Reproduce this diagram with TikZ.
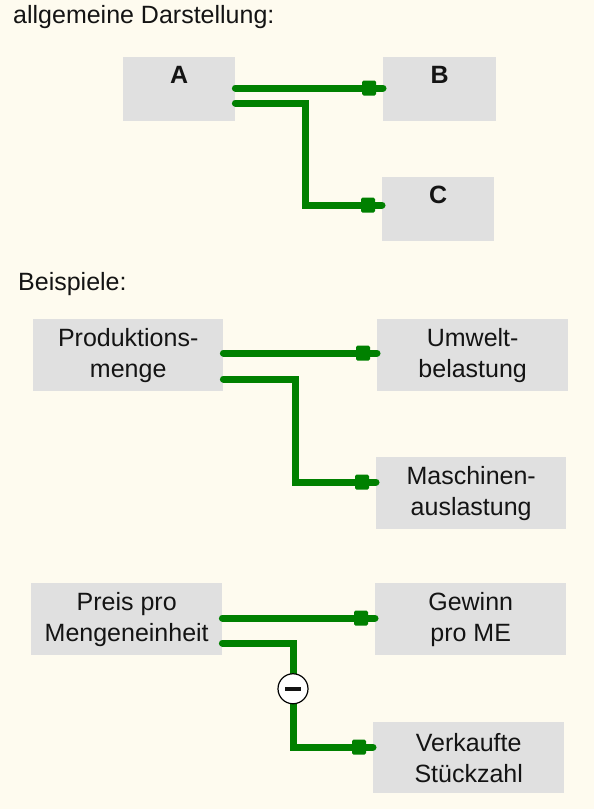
\documentclass[tikz,border=0pt]{standalone}
\usepackage{fontspec}
\setmainfont{Liberation Sans}
\usetikzlibrary{decorations.markings}
\definecolor{paper}{RGB}{254,251,239}
\definecolor{boxgray}{RGB}{224,224,224}
\definecolor{linkgreen}{RGB}{0,128,0}
\definecolor{ink}{RGB}{20,20,20}
\begin{document}
\begin{tikzpicture}[x=1pt,y=-1pt,
  every node/.style={inner sep=0pt, text=ink, font=\fontsize{25}{31}\selectfont},
  heading/.style={anchor=base west},
  letterbox/.style={fill=boxgray, anchor=north west, text height=26pt, text depth=38pt,
    font=\fontsize{25}{31}\selectfont\bfseries},
  textbox/.style={fill=boxgray, anchor=north west, align=center, minimum height=72pt},
  link/.style={draw=linkgreen, line width=7pt, line cap=round, line join=miter,
    postaction={decorate},
    decoration={markings, mark=at position 1 with
      {\fill[linkgreen, rounded corners=1.5pt] (-21,-7.5) rectangle (-7,7.5);}}},
  minus/.style={circle, draw=black, line width=1.2pt, fill=white, minimum size=30pt}
]
% page background
\fill[paper] (0,0) rectangle (594,809);
\useasboundingbox (0,0) rectangle (594,809);

% general scheme
\node[heading] (t1) at (13,23) {allgemeine Darstellung:};
\node[letterbox, minimum width=112pt] (A) at (123,57) {A};
\node[letterbox, minimum width=113pt] (B) at (383,57) {B};
\node[letterbox, minimum width=112pt] (C) at (382,177) {C};

\draw[link] (A.east |- 0,88) -- (B.west |- 0,88);
\draw[link] (A.east |- 0,103) -- (305,103) -- (305,205) -- (C.west |- 0,205);

% examples
\node[heading] (t2) at (18,290) {Beispiele:};

\node[textbox, minimum width=190pt] (prod) at (33,319) {Produktions-\\menge};
\node[textbox, minimum width=191pt] (umw) at (377,319) {Umwelt-\\belastung};
\node[textbox, minimum width=190pt] (masch) at (376,457) {Maschinen-\\auslastung};

\draw[link] (prod.east |- 0,353) -- (umw.west |- 0,353);
\draw[link] (prod.east |- 0,379) -- (295,379) -- (295,482) -- (masch.west |- 0,482);

\node[textbox, minimum width=191pt] (preis) at (31,583) {Preis pro\\Mengeneinheit};
\node[textbox, minimum width=191pt] (gew) at (375,583) {Gewinn\\pro ME};
\node[textbox, minimum width=191pt, minimum height=71pt] (verk) at (373,722) {Verkaufte\\Stückzahl};

\draw[link] (preis.east |- 0,618) -- (gew.west |- 0,618);
\draw[link] (preis.east |- 0,643) -- (293,643)
  -- node[minus, pos=0.44] (neg) {\rule{16pt}{4pt}} (293,747)
  -- (verk.west |- 0,747);
\end{tikzpicture}
\end{document}
